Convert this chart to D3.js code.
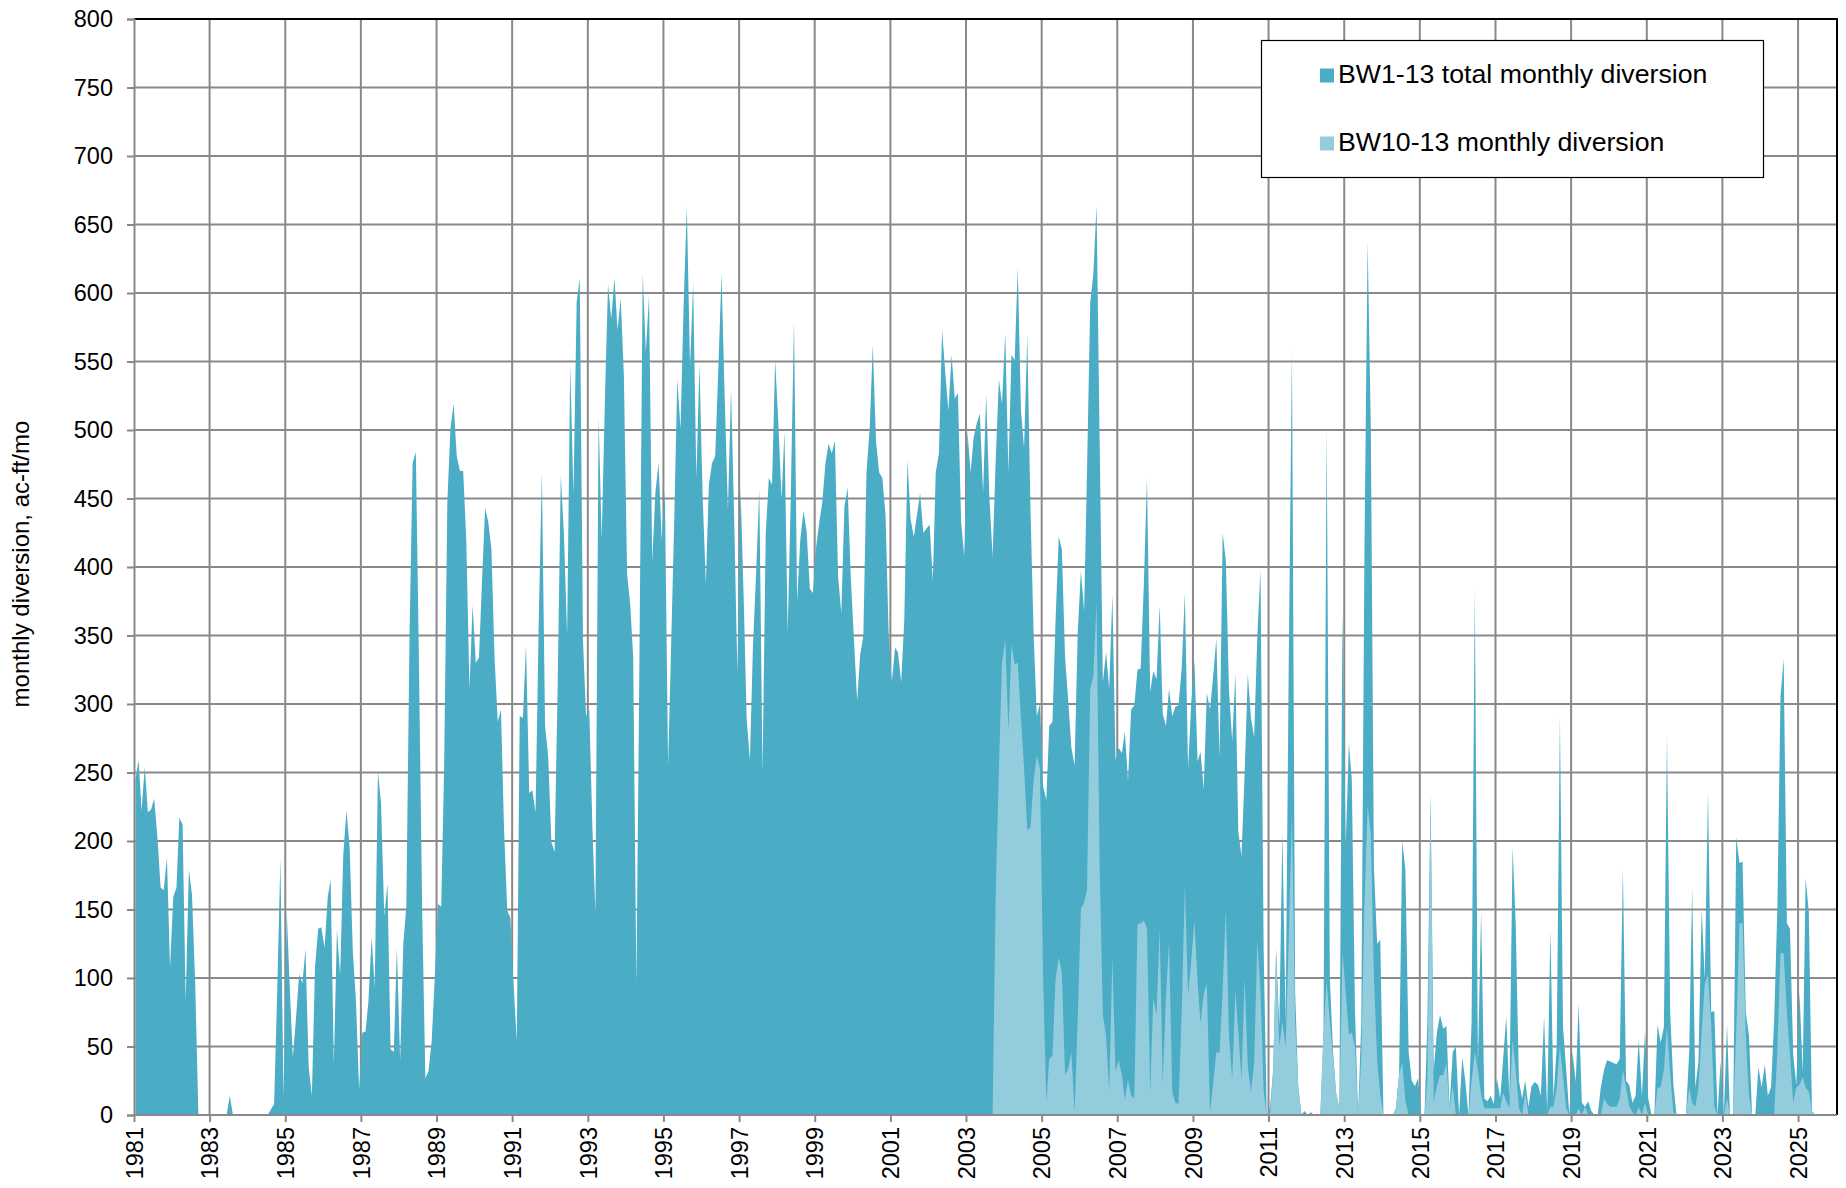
<!DOCTYPE html>
<html>
<head>
<meta charset="utf-8">
<script src="https://cdn.jsdelivr.net/npm/d3@7"></script>
<style>
  body { margin: 0; background: #ffffff; }
  text { font-family: "Liberation Sans", Arial, sans-serif; }
</style>
</head>
<body>
<svg id="chart" width="1846" height="1188"></svg>
<script>
// ---------------- DATA ----------------
// Monthly values (ac-ft/mo), one row per calendar year, starting January 1981
const totalStartYear = 1981;
const totalMonthly = [
  245,259,222,254,221,223,231,203,166,164,188,108, // 1981
  159,166,217,212,83,179,161,96,0,0,0,0,          // 1982
  0,0,0,0,0,0,14,0,0,0,0,0,                       // 1983
  0,0,0,0,0,0,0,4,8,90,187,13,                    // 1984
  149,90,42,71,103,96,121,35,14,108,136,137,      // 1985
  122,159,172,37,135,102,190,222,195,120,83,18,   // 1986
  60,61,83,130,93,251,227,145,169,48,46,122,      // 1987
  40,125,152,350,476,484,330,150,27,32,54,101,    // 1988
  154,152,253,447,501,519,481,470,470,420,311,372, // 1989
  330,334,388,443,433,413,334,287,296,208,149,144, // 1990
  95,54,291,290,343,235,237,221,361,469,284,262,  // 1991
  199,192,311,467,424,350,548,453,593,611,347,291, // 1992
  296,208,147,510,420,523,606,581,611,573,596,540, // 1993
  395,372,334,95,340,614,557,598,404,454,476,420, // 1994
  456,255,338,433,537,501,591,663,546,607,465,548, // 1995
  451,388,460,476,481,546,614,523,442,530,433,323, // 1996
  458,375,289,259,343,397,457,250,424,465,460,551, // 1997
  505,449,499,352,451,580,375,420,441,426,384,381, // 1998
  415,433,447,476,490,483,492,393,366,444,458,393, // 1999
  347,302,336,350,469,501,562,492,469,465,438,352, // 2000
  316,341,338,316,361,478,435,422,438,454,425,428, // 2001
  431,390,469,483,573,542,514,555,523,527,433,408, // 2002
  499,469,494,505,512,454,526,451,408,478,537,519, // 2003
  571,469,555,551,618,514,487,569,442,352,291,300, // 2004
  240,230,284,287,361,422,413,334,302,268,255,352, // 2005
  397,368,470,593,614,664,492,316,338,311,380,259, // 2006
  268,264,280,244,296,299,325,326,388,465,309,324, // 2007
  318,372,293,284,311,291,298,299,327,381,253,300, // 2008
  332,258,265,238,308,296,320,348,261,425,404,310, // 2009
  273,322,207,189,249,322,290,276,350,398,120,0,  // 2010
  5,33,121,65,207,68,330,558,90,21,0,3,           // 2011
  0,2,0,1,0,60,504,100,46,16,5,367,               // 2012
  196,271,245,76,0,68,410,638,500,180,125,128,    // 2013
  0,0,0,0,5,30,200,179,46,25,21,27,               // 2014
  0,0,68,235,33,60,73,63,65,6,46,50,              // 2015
  0,42,25,0,68,384,38,149,12,10,14,8,             // 2016
  27,12,40,72,12,196,140,25,12,25,6,21,           // 2017
  24,22,14,72,3,135,12,50,291,64,33,0,            // 2018
  46,24,81,9,6,10,3,0,0,20,33,40,                 // 2019
  39,38,37,41,180,25,22,9,14,55,14,61,            // 2020
  12,0,0,66,53,64,277,75,22,0,0,0,                // 2021
  0,47,166,20,39,151,99,236,75,76,0,39,           // 2022
  0,66,0,0,203,184,185,75,58,0,0,35,              // 2023
  20,37,14,20,69,151,305,333,140,136,44,22,       // 2024
  90,31,173,148,3,0                               // 2025
];

// BW10-13 monthly diversion, starting January 2003 (zero before)
const bw1013StartYear = 2003;
const bw1013Monthly = [
  0,0,0,0,0,0,0,0,0,160,253,330,                  // 2003
  347,280,343,329,330,289,253,208,210,244,262,253, // 2004
  100,9,41,43,99,115,104,29,34,46,2,70,           // 2005
  151,155,165,311,320,374,180,73,58,17,115,32,    // 2006
  40,29,11,26,14,12,139,140,142,136,17,85,        // 2007
  73,136,23,85,127,17,9,8,76,168,88,112,          // 2008
  142,97,67,88,96,2,23,46,45,91,151,58,           // 2009
  26,91,61,26,100,35,17,38,127,91,17,0,           // 2010
  0,33,121,50,68,50,128,220,68,21,0,0,            // 2011
  0,0,0,0,0,60,98,68,42,16,5,119,                 // 2012
  89,59,60,50,0,42,153,226,205,100,40,15,         // 2013
  0,0,0,0,5,30,38,10,0,0,0,0,                     // 2014
  0,0,25,230,10,21,29,29,38,5,21,0,               // 2015
  0,0,0,0,25,46,33,15,5,5,5,5,                    // 2016
  5,5,16,10,5,55,33,5,0,16,0,0,                   // 2017
  0,0,0,0,0,6,6,20,50,28,5,0,                     // 2018
  0,0,5,0,6,0,0,0,0,0,12,8,                       // 2019
  6,6,6,12,33,20,7,2,0,6,0,9,                     // 2020
  0,0,0,20,20,33,64,30,2,0,0,0,                   // 2021
  0,20,9,6,20,61,96,102,66,6,0,0,                 // 2022
  0,12,0,0,61,140,140,58,14,0,0,0,                // 2023
  0,0,0,0,0,47,118,118,75,44,9,20,                // 2024
  22,28,20,17,3,0                                 // 2025
];

const seriesNames = ["BW1-13 total monthly diversion", "BW10-13 monthly diversion"];
const yTickValues = [0,50,100,150,200,250,300,350,400,450,500,550,600,650,700,750,800];
const xTickYears = [1981,1983,1985,1987,1989,1991,1993,1995,1997,1999,2001,2003,2005,2007,2009,2011,2013,2015,2017,2019,2021,2023,2025];
const yAxisTitle = "monthly diversion, ac-ft/mo";

// ---------------- LAYOUT / STYLE ----------------
const plot = { left: 134, right: 1837, top: 19, bottom: 1115 };
const colTotal = "#4BACC6";
const colBW = "#93CDDD";
const gridCol = "#898989";

const svg = d3.select("#chart");

const x = d3.scaleTime()
  .domain([new Date(1981, 0, 1), new Date(2026, 0, 12)])
  .range([plot.left, plot.right]);
const y = d3.scaleLinear().domain([0, 800]).range([plot.bottom, plot.top]);

function toSeries(startYear, arr) {
  return arr.map((v, i) => ({ date: new Date(startYear, i, 15), v: v }));
}
const totalData = toSeries(totalStartYear, totalMonthly);
const bwData = toSeries(bw1013StartYear, bw1013Monthly);

// grid
const grid = svg.append("g");
grid.selectAll("line.h").data(yTickValues.filter(v => v > 0 && v < 800)).enter()
  .append("line")
  .attr("x1", plot.left).attr("x2", plot.right)
  .attr("y1", d => y(d)).attr("y2", d => y(d))
  .attr("stroke", gridCol).attr("stroke-width", 2);
grid.selectAll("line.v").data(xTickYears.filter(yr => yr > 1981)).enter()
  .append("line")
  .attr("x1", d => x(new Date(d, 0, 1))).attr("x2", d => x(new Date(d, 0, 1)))
  .attr("y1", plot.top).attr("y2", plot.bottom)
  .attr("stroke", gridCol).attr("stroke-width", 2);

// clip
svg.append("clipPath").attr("id", "clip").append("rect")
  .attr("x", plot.left).attr("y", plot.top)
  .attr("width", plot.right - plot.left).attr("height", plot.bottom - plot.top);

const area = d3.area()
  .x(d => x(d.date))
  .y0(y(0))
  .y1(d => y(d.v));

const marks = svg.append("g").attr("clip-path", "url(#clip)");
marks.append("path").datum(totalData).attr("d", area).attr("fill", colTotal);
marks.append("path").datum(bwData).attr("d", area).attr("fill", colBW);

// plot border top/right (black)
svg.append("path")
  .attr("d", `M${plot.left},${plot.top}H${plot.right}V${plot.bottom}`)
  .attr("fill", "none").attr("stroke", "#000").attr("stroke-width", 2);

// y axis
const yAxis = svg.append("g")
  .attr("transform", `translate(${plot.left},0)`)
  .call(d3.axisLeft(y).tickValues(yTickValues).tickSize(7).tickPadding(14).tickFormat(d3.format("d")));
yAxis.select(".domain").attr("stroke", gridCol).attr("stroke-width", 2);
yAxis.selectAll(".tick line").attr("stroke", gridCol).attr("stroke-width", 2);
yAxis.selectAll(".tick text").attr("font-size", 23.5).attr("fill", "#000")
  .attr("font-family", "Liberation Sans, Arial, sans-serif");

// x axis
const xAxis = svg.append("g")
  .attr("transform", `translate(0,${plot.bottom})`)
  .call(d3.axisBottom(x)
    .tickValues(xTickYears.map(yr => new Date(yr, 0, 1)))
    .tickSize(7)
    .tickFormat(d3.timeFormat("%Y")));
xAxis.select(".domain").attr("stroke", gridCol).attr("stroke-width", 2)
  .attr("d", `M${plot.left},0H${plot.right}`);
xAxis.selectAll(".tick line").attr("stroke", gridCol).attr("stroke-width", 2);
xAxis.selectAll(".tick text")
  .attr("font-size", 23.5).attr("fill", "#000")
  .attr("font-family", "Liberation Sans, Arial, sans-serif")
  .attr("transform", "rotate(-90)")
  .attr("text-anchor", "end")
  .attr("x", -12).attr("y", 0).attr("dy", "0.35em");

// y axis title
svg.append("text")
  .attr("transform", `translate(21,${(plot.top + plot.bottom) / 2 - 3}) rotate(-90)`)
  .attr("text-anchor", "middle").attr("dy", "0.35em")
  .attr("font-size", 24).attr("fill", "#000")
  .text(yAxisTitle);

// legend
const lg = svg.append("g");
lg.append("rect").attr("x", 1261.5).attr("y", 40.5).attr("width", 502).attr("height", 137)
  .attr("fill", "#fff").attr("stroke", "#000").attr("stroke-width", 1.2);
const legendRows = [
  { name: seriesNames[0], color: colTotal, yb: 83 },
  { name: seriesNames[1], color: colBW, yb: 151 }
];
legendRows.forEach(r => {
  lg.append("rect").attr("x", 1320).attr("y", r.yb - 14.5).attr("width", 14).attr("height", 14)
    .attr("fill", r.color);
  lg.append("text").attr("x", 1338).attr("y", r.yb)
    .attr("font-size", 26.7).attr("fill", "#000").text(r.name);
});
</script>
</body>
</html>
